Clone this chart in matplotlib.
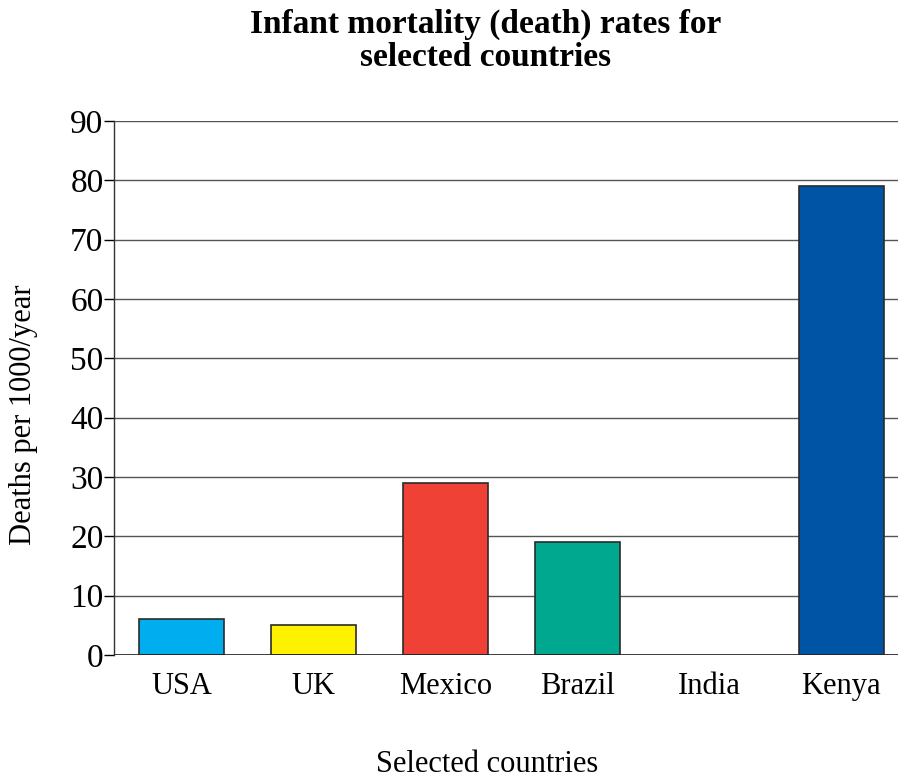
import matplotlib
matplotlib.use("Agg")
import matplotlib.pyplot as plt
import numpy as np

countries = ["USA", "UK", "Mexico", "Brazil", "India", "Kenya"]
rates = [6, 5, 29, 19, 0, 79]
colors = ["#00AEEF", "#FFF200", "#EF4136", "#00A88F", "#FFFFFF", "#0054A6"]
yticks = [0, 10, 20, 30, 40, 50, 60, 70, 80, 90]

plt.rcParams["font.family"] = ["Liberation Serif", "DejaVu Serif"]

fig = plt.figure(figsize=(8.99, 7.82), dpi=100)
ax = fig.add_axes([0.1268, 0.1624, 0.8722, 0.6829])

x = np.arange(len(countries))
for xi, val, col in zip(x, rates, colors):
    if val > 0:
        ax.bar(xi, val, width=0.64, color=col, edgecolor="#2b2b2b", linewidth=1.2, zorder=3)

ax.set_xlim(-0.51, 5.43)
ax.set_ylim(0, 90)
ax.set_yticks(yticks)
ax.set_xticks(x)
ax.set_xticklabels(countries, fontsize=22)
ax.tick_params(axis="x", length=0, pad=12)
ax.tick_params(axis="y", labelsize=24, length=7, width=1, pad=0.5, direction="out")
ax.yaxis.grid(True, color="#555555", linewidth=1.0, zorder=0)
ax.axhline(0, color="#222222", linewidth=1.2, zorder=4)

for side in ["top", "right", "bottom"]:
    ax.spines[side].set_visible(False)
ax.spines["left"].set_linewidth(1.0)
ax.spines["left"].set_color("#333333")

# axis titles placed in figure coordinates to match the reference
fig.text(0.026, 0.469, "Deaths per 1000/year", fontsize=22, rotation=90,
         ha="center", va="center")
fig.text(0.542, 0.022, "Selected countries", fontsize=22, ha="center", va="center")

fig.suptitle("Infant mortality (death) rates for\nselected countries",
             x=0.54, y=0.989, fontsize=24, fontweight="bold", linespacing=1.1)

fig.savefig("out.png", dpi=100)
